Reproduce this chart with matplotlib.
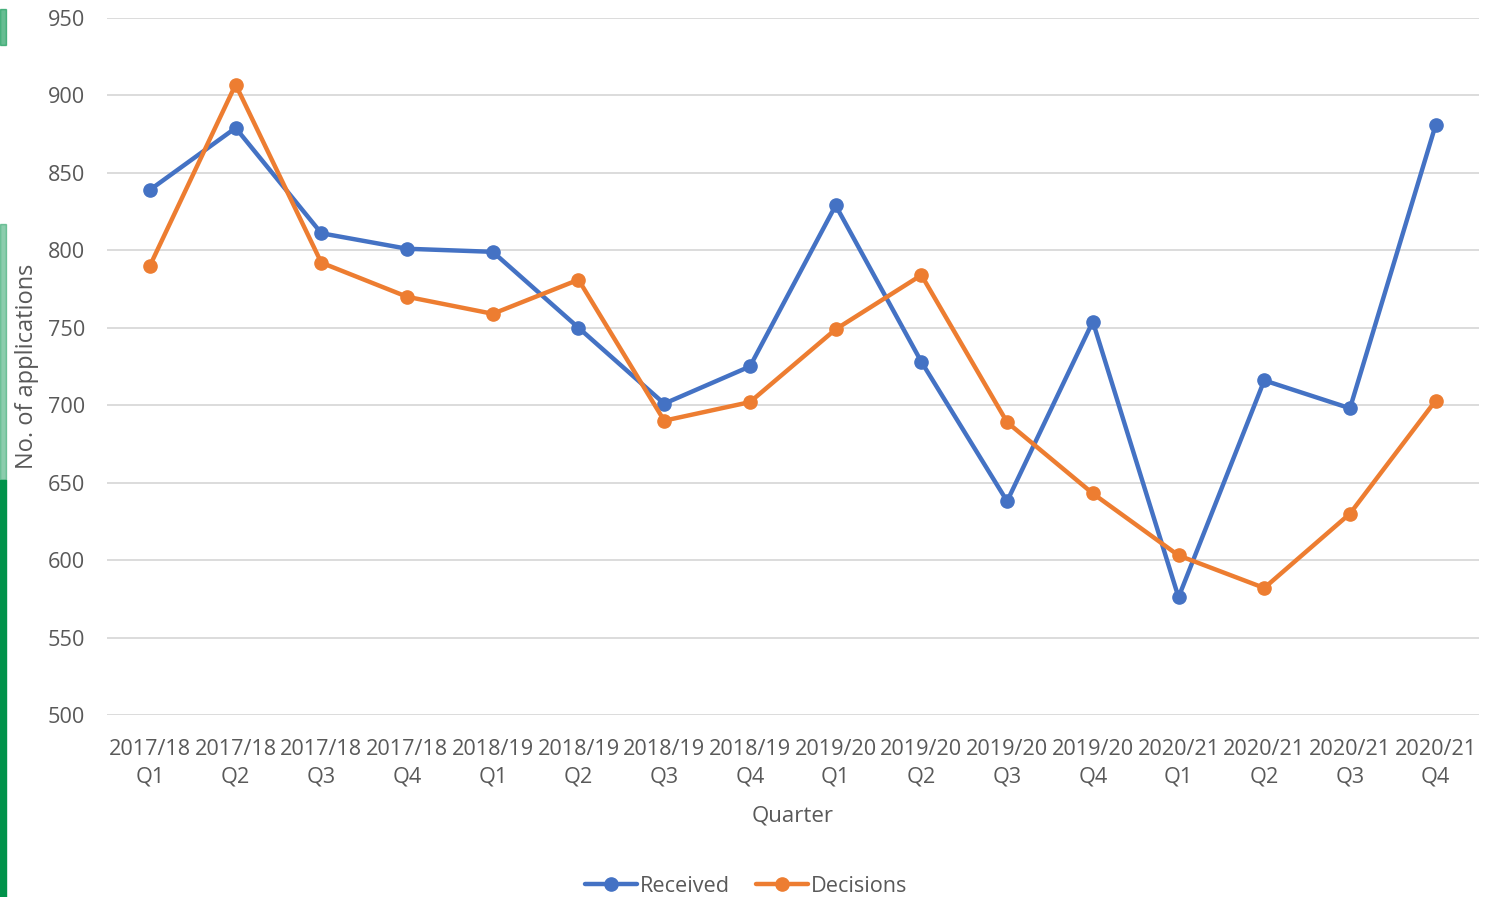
import matplotlib.pyplot as plt
from matplotlib.patches import Rectangle

quarters = ['2017/18\nQ1', '2017/18\nQ2', '2017/18\nQ3', '2017/18\nQ4',
            '2018/19\nQ1', '2018/19\nQ2', '2018/19\nQ3', '2018/19\nQ4',
            '2019/20\nQ1', '2019/20\nQ2', '2019/20\nQ3', '2019/20\nQ4',
            '2020/21\nQ1', '2020/21\nQ2', '2020/21\nQ3', '2020/21\nQ4']
received = [839, 879, 811, 801, 799, 750, 701, 725,
            829, 728, 638, 754, 576, 716, 698, 881]
decisions = [790, 907, 792, 770, 759, 781, 690, 702,
             749, 784, 689, 643, 603, 582, 630, 703]
y_ticks = [500, 550, 600, 650, 700, 750, 800, 850, 900, 950]

plt.rcParams['font.family'] = ['Open Sans', 'DejaVu Sans']
text_col = '#595959'

fig = plt.figure(figsize=(14.95, 8.97), dpi=100)
ax = fig.add_axes([0.0716, 0.2029, 0.9174, 0.7771])

x = range(len(quarters))
ax.plot(x, received, color='#4472C4', lw=3.2, marker='o', markersize=9.5,
        label='Received', solid_capstyle='round', zorder=3)
ax.plot(x, decisions, color='#ED7D31', lw=3.2, marker='o', markersize=9.5,
        label='Decisions', solid_capstyle='round', zorder=3)

ax.set_xlim(-0.5, len(quarters) - 0.5)
ax.set_ylim(500, 950)
ax.set_yticks(y_ticks)
ax.set_xticks(list(x))
ax.set_xticklabels(quarters, linespacing=1.45)
ax.grid(axis='y', color='#D9D9D9', lw=1.3)
ax.set_axisbelow(True)
for s in ax.spines.values():
    s.set_visible(False)
ax.tick_params(length=0, labelsize=15.6, labelcolor=text_col)
ax.tick_params(axis='x', pad=17)
ax.tick_params(axis='y', pad=16)

ax.set_xlabel('Quarter', fontsize=16, color=text_col, labelpad=13)
ax.set_ylabel('No. of applications', fontsize=17, color=text_col, labelpad=6)

leg = fig.legend(loc='center', bbox_to_anchor=(0.499, 0.012), ncol=2, frameon=False,
                 fontsize=15.6, handlelength=2.4, handletextpad=0.15, columnspacing=1.2)
for t in leg.get_texts():
    t.set_color(text_col)

# green page stripe on the left edge
fig.patches.append(Rectangle((0, 0), 0.004, 0.465, transform=fig.transFigure,
                             color='#00924A', zorder=0))
fig.patches.append(Rectangle((0, 0.465), 0.004, 0.285, transform=fig.transFigure,
                             color='#00924A', alpha=0.45, zorder=0))
fig.patches.append(Rectangle((0, 0.95), 0.004, 0.04, transform=fig.transFigure,
                             color='#00924A', alpha=0.6, zorder=0))

fig.savefig('out.png', dpi=100)
